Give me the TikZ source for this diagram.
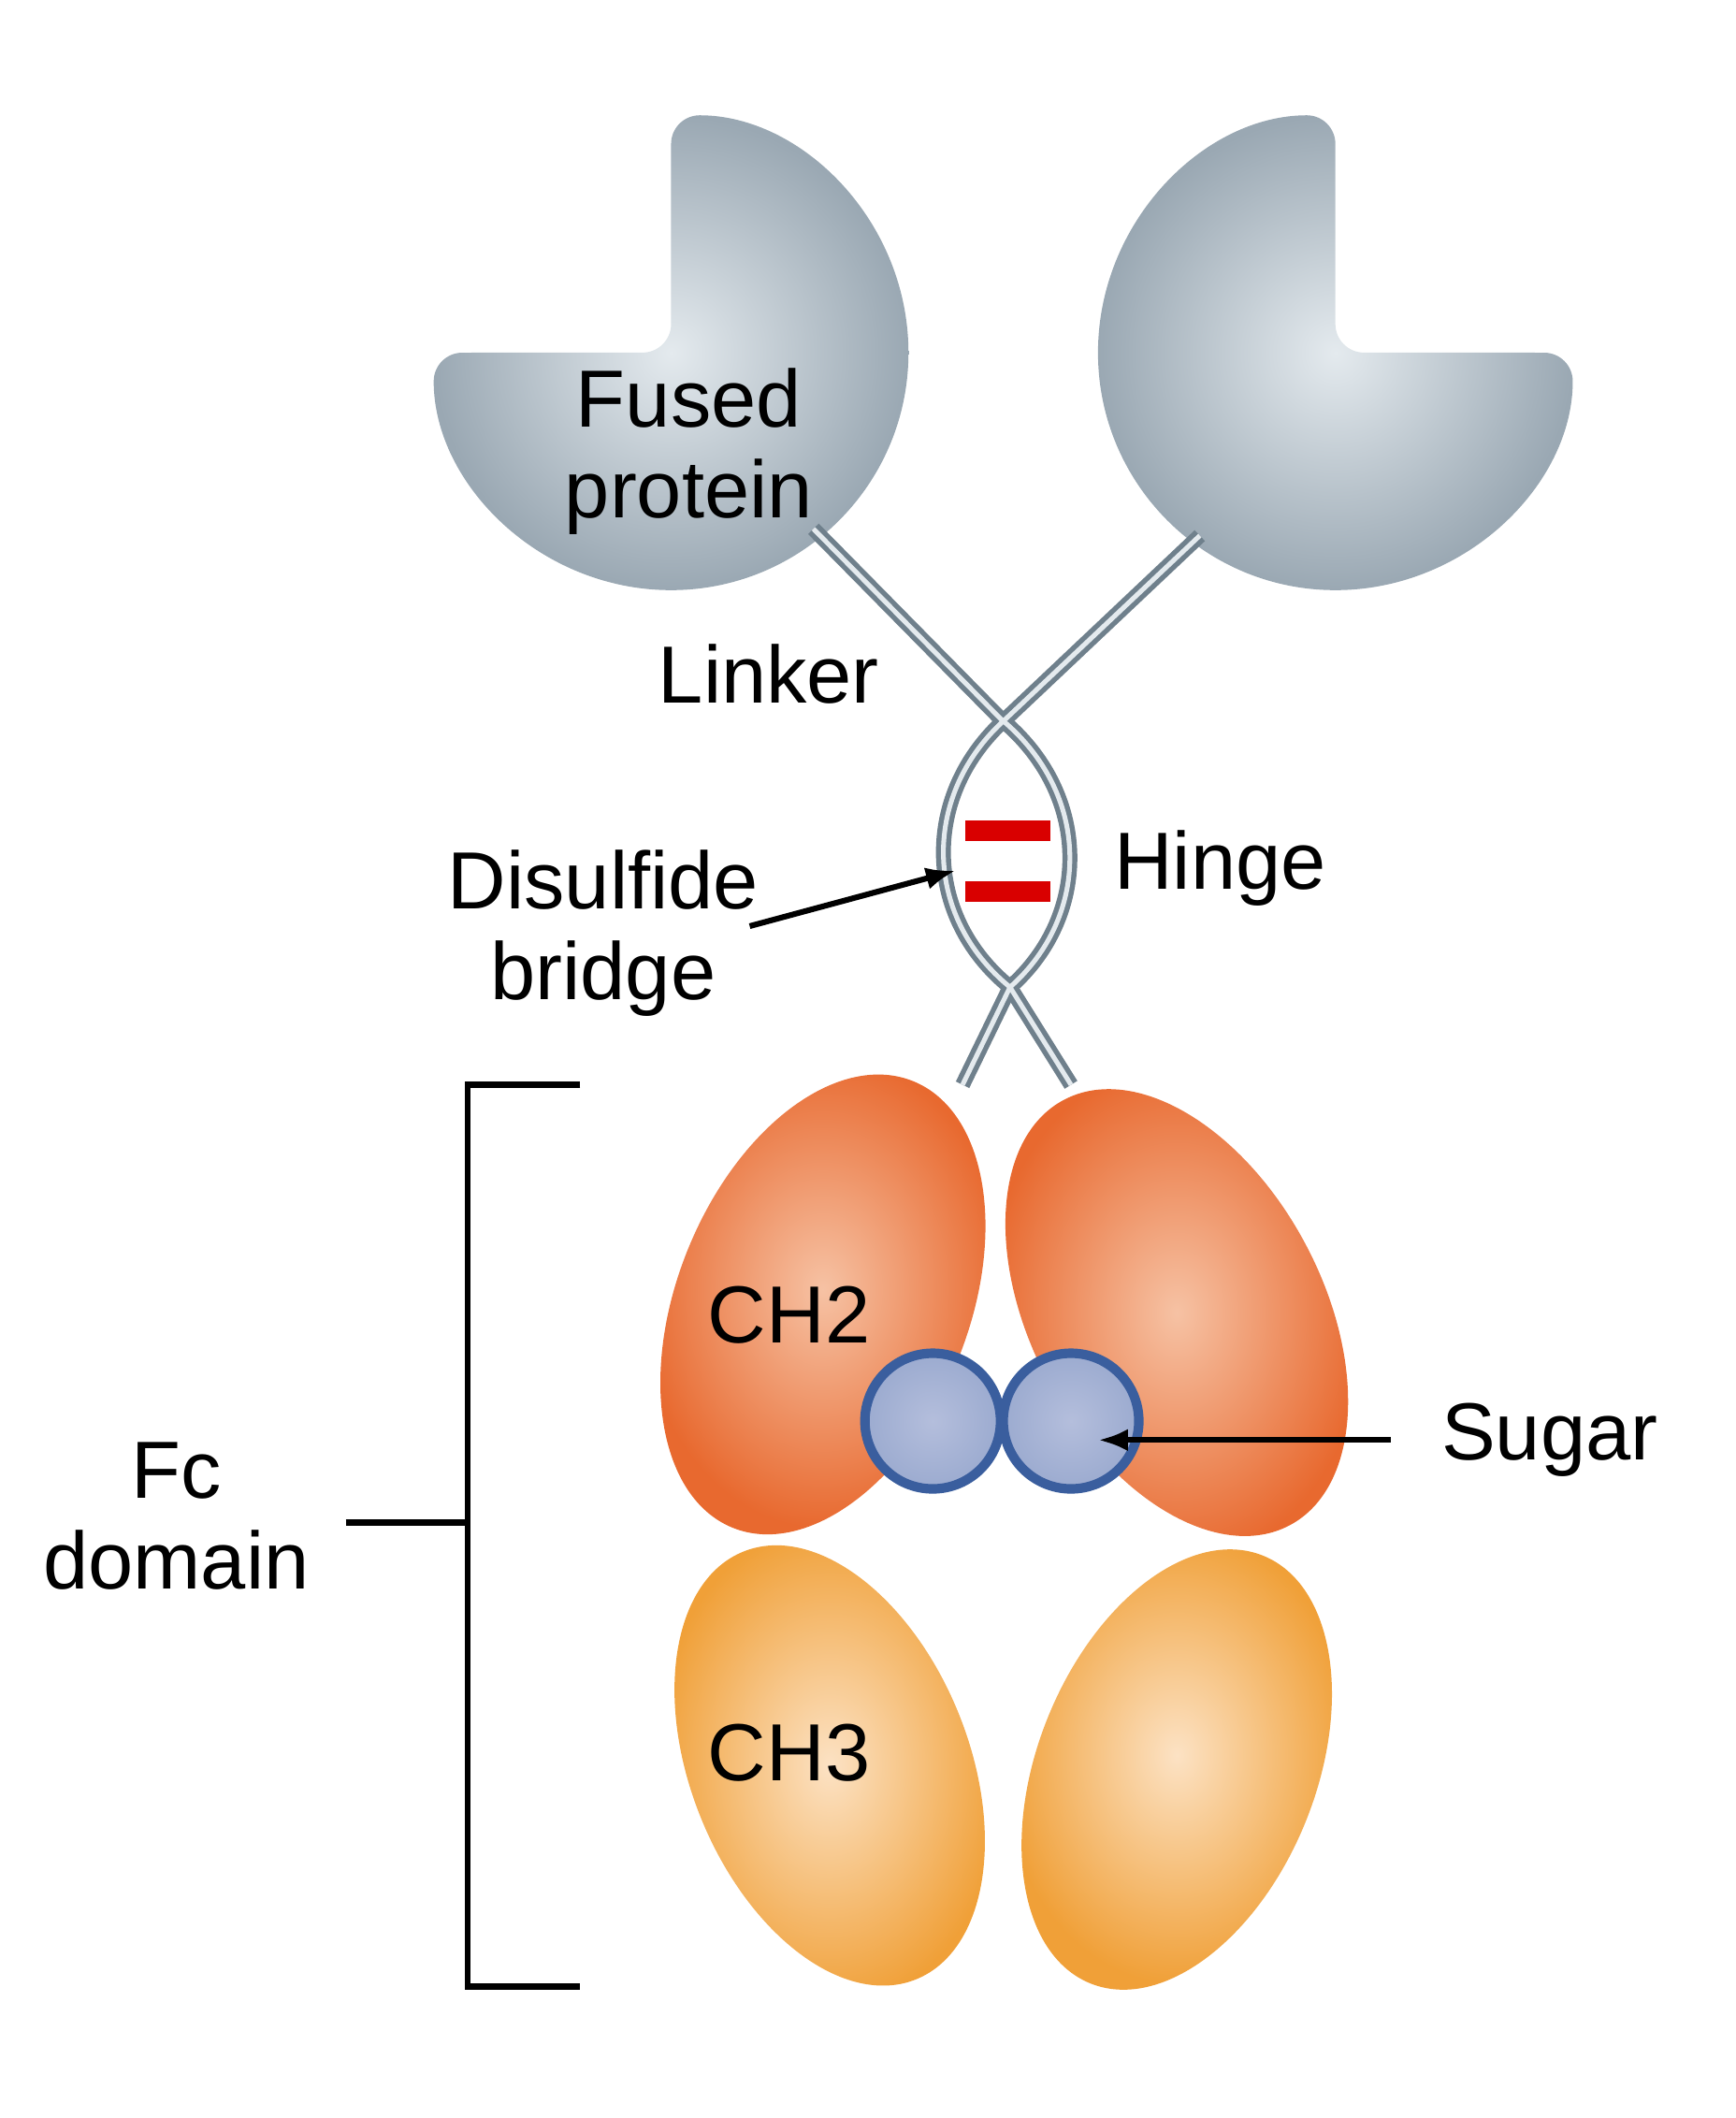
\documentclass[tikz,border=0pt]{standalone}
\usepackage{fontspec}
\setmainfont{Liberation Sans}
\usetikzlibrary{shapes.geometric,arrows.meta}
\definecolor{protgray}{HTML}{9AA8B3}
\definecolor{protlight}{HTML}{E4EAEE}
\definecolor{ch2dark}{HTML}{E8692F}
\definecolor{ch2light}{HTML}{F6C2A4}
\definecolor{ch3dark}{HTML}{F0A038}
\definecolor{ch3light}{HTML}{FCE2C4}
\definecolor{sugdark}{HTML}{3A5E9E}
\definecolor{suglight}{HTML}{B4BEDC}
\definecolor{strand}{HTML}{6F808C}
\begin{document}
\begin{tikzpicture}[x=0.01cm, y=-0.01cm,
    label/.style={font=\fontsize{17}{22}\selectfont, align=center},
    fused/.style={rounded corners=6, shading=radial, inner color=protlight, outer color=protgray},
    ch2/.style={ellipse, minimum width=2.15cm, minimum height=3.55cm, shading=radial, inner color=ch2light, outer color=ch2dark},
    ch3/.style={ellipse, minimum width=2.05cm, minimum height=3.4cm, shading=radial, inner color=ch3light, outer color=ch3dark},
    sugar/.style={circle, minimum size=1.0cm, draw=sugdark, line width=0.07cm, shading=radial, inner color=suglight, outer color=suglight!80!sugdark},
    link/.style={draw=strand, line width=0.11cm},
    linkin/.style={draw=protlight, line width=0.035cm},
    bracket/.style={line width=1.3pt},
    pointer/.style={line width=1.2pt, -{Latex[length=0.22cm]}},
]
\useasboundingbox (0,0) rectangle (1280,1562);
% fused proteins
\path[fused] (495,85) arc[start angle=90, end angle=-180, radius=1.75cm] -- (495,260) -- cycle;
\path[fused] (985,85) arc[start angle=90, end angle=360, radius=1.75cm] -- (985,260) -- cycle;
% linker and hinge
\foreach \s in {link, linkin} {
  \draw[\s] (600,390) -- (738,530) .. controls (805,585) and (805,675) .. (745,728) -- (710,800);
  \draw[\s] (885,395) -- (742,530) .. controls (680,585) and (680,675) .. (745,728) -- (790,800);
}
\fill[red!85!black] (712,605) rectangle (775,620);
\fill[red!85!black] (712,650) rectangle (775,665);
% Fc domain
\node[ch3, rotate=22] (ch3l) at (612,1302) {};
\node[ch3, rotate=-22] (ch3r) at (868,1305) {};
\node[ch2, rotate=-22] (ch2l) at (607,962) {};
\node[ch2, rotate=28] (ch2r) at (868,968) {};
\node[sugar] (sug1) at (688,1048) {};
\node[sugar] (sug2) at (790,1048) {};
% labels
\node[label] (fusedtxt) at (508,333) {Fused\\[-3pt]protein};
\node[label] (linkertxt) at (567,497) {Linker};
\node[label] (hingetxt) at (900,640) {Hinge};
\node[label] (ssbtxt) at (445,688) {Disulfide\\[-3pt]bridge};
\node[label] (ch2txt) at (582,970) {CH2};
\node[label] (ch3txt) at (582,1293) {CH3};
\node[label] (sugartxt) at (1143,1062) {Sugar};
\node[label] (fctxt) at (130,1118) {Fc\\[-3pt]domain};
\coordinate (ssbtip) at (705,642);
\coordinate (sugtip) at (810,1062);
\draw[pointer] (553,683) -- (ssbtip);
\draw[pointer] (sugartxt.west) ++(-25,0) -- (sugtip);
% bracket
\draw[bracket] (428,800) -- (345,800) -- (345,1465) -- (428,1465);
\draw[bracket] (255,1123) -- (345,1123);
\end{tikzpicture}
\end{document}
